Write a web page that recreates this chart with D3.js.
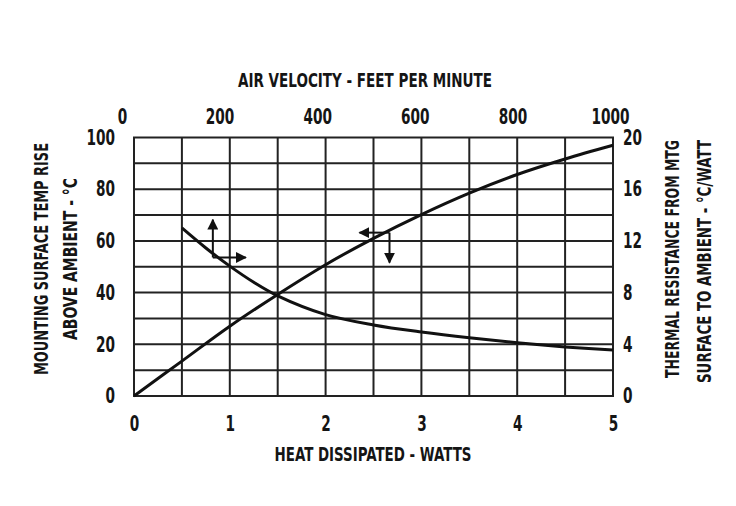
<!DOCTYPE html>
<html><head><meta charset="utf-8">
<script src="https://cdn.jsdelivr.net/npm/d3@7"></script>
<style>
body{margin:0;background:#fff}
svg{display:block}
text{font-family:"Liberation Sans Narrow","DejaVu Sans Condensed",sans-serif;font-weight:bold;fill:#151515}
</style></head><body><svg id="c" width="736" height="506"></svg>
<script>
// ---- data ----
const heatWatts      = [0, 0.5, 1, 1.5, 2, 2.5, 3, 3.5, 4, 4.5, 5];
const tempRiseC      = [0, 13.5, 27, 39.3, 50.8, 61, 70.2, 78.5, 85.7, 91.7, 97];
const airVelocityFpm = [100, 150, 200, 250, 300, 400, 500, 600, 700, 800, 900, 1000];
const thermalResCW   = [13, 11.45, 10.05, 8.8, 7.75, 6.3, 5.5, 4.95, 4.5, 4.12, 3.8, 3.55];
const heatTicks      = [0, 1, 2, 3, 4, 5];
const velocityTicks  = [0, 200, 400, 600, 800, 1000];
const tempTicks      = [0, 20, 40, 60, 80, 100];
const resTicks       = [0, 4, 8, 12, 16, 20];
const topTitle    = "AIR VELOCITY - FEET PER MINUTE";
const bottomTitle = "HEAT DISSIPATED - WATTS";
const leftTitle   = ["MOUNTING SURFACE TEMP RISE", "ABOVE AMBIENT - °C"];
const rightTitle  = ["THERMAL RESISTANCE FROM MTG", "SURFACE TO AMBIENT - °C/WATT"];
// arrow annotations (heat W, temp °C): stem start -> tip
const arrowStems = [
  {x0: 0.823, y0: 53.6, x1: 0.823, y1: 68.2},
  {x0: 0.823, y0: 53.6, x1: 1.167, y1: 53.6},
  {x0: 2.667, y0: 63.2, x1: 2.667, y1: 51.6},
  {x0: 2.667, y0: 63.2, x1: 2.354, y1: 63.2}
];

// ---- layout ----
const L = 134, R = 613, T = 137.5, B = 396;
const svg = d3.select("#c");
const x = d3.scaleLinear().domain([0, 5]).range([L, R]);
const xVel = d3.scaleLinear().domain([0, 1000]).range([L, R]);
const xVelLabel = d3.scaleLinear().domain([0, 1000]).range([122, 610]);
const y = d3.scaleLinear().domain([0, 100]).range([B, T]);
const yR = d3.scaleLinear().domain([0, 20]).range([B, T]);

svg.append("rect").attr("width", 736).attr("height", 506).attr("fill", "#fff");

// grid
const grid = svg.append("g").attr("stroke", "#222").attr("stroke-width", 2);
grid.selectAll("line.v").data(d3.range(0, 5.001, 0.5)).join("line")
  .attr("x1", d => x(d)).attr("x2", d => x(d)).attr("y1", T).attr("y2", B);
grid.selectAll("line.h").data(d3.range(0, 100.001, 10)).join("line")
  .attr("y1", d => y(d)).attr("y2", d => y(d)).attr("x1", L - 1).attr("x2", R + 1);

const fs = 19, tfs = 20.5;
function styleAxis(g) {
  g.select(".domain").remove();
  g.selectAll(".tick line").remove();
  g.selectAll("text").attr("font-size", tfs).attr("font-family", null).attr("fill", "#151515")
    .each(function () {
      const w = this.getComputedTextLength();
      d3.select(this).attr("textLength", w * 0.74).attr("lengthAdjust", "spacingAndGlyphs");
    });
}
// bottom axis
svg.append("g").attr("transform", `translate(0,${B})`)
  .call(d3.axisBottom(x).tickValues(heatTicks).tickFormat(d3.format("d")).tickSize(0))
  .call(styleAxis)
  .selectAll("text").attr("y", 34.5).attr("dy", null);
// top axis (air velocity)
svg.append("g").attr("transform", `translate(0,${T})`)
  .call(d3.axisTop(xVelLabel).tickValues(velocityTicks).tickFormat(d3.format("d")).tickSize(0))
  .call(styleAxis)
  .selectAll("text").attr("y", -14).attr("dy", null);
// left axis
svg.append("g").attr("transform", `translate(${L},0)`)
  .call(d3.axisLeft(y).tickValues(tempTicks).tickFormat(d3.format("d")).tickSize(0).tickPadding(19))
  .call(styleAxis)
  .selectAll("text").attr("dy", "0.33em");
// right axis
svg.append("g").attr("transform", `translate(${R},0)`)
  .call(d3.axisRight(yR).tickValues(resTicks).tickFormat(d3.format("d")).tickSize(0).tickPadding(10))
  .call(styleAxis)
  .selectAll("text").attr("dy", "0.33em");

// titles
function txt(t, px, py, len, rot) {
  const e = svg.append("text").text(t).attr("font-size", fs)
    .attr("text-anchor", "middle")
    .attr("textLength", len).attr("lengthAdjust", "spacingAndGlyphs");
  if (rot) e.attr("transform", `translate(${px},${py}) rotate(-90)`);
  else e.attr("x", px).attr("y", py);
}
txt(topTitle, 365, 87, 254, false);
txt(bottomTitle, 373, 461, 197, false);
txt(leftTitle[0], 47.5, 259, 232, true);
txt(leftTitle[1], 76.5, 259, 162, true);
txt(rightTitle[0], 679, 259, 238, true);
txt(rightTitle[1], 711, 261.5, 243, true);

// curves
const line1 = d3.line().x((d, i) => x(heatWatts[i])).y(d => y(d)).curve(d3.curveCatmullRom.alpha(0.5));
svg.append("path").attr("d", line1(tempRiseC)).attr("fill", "none")
  .attr("stroke", "#111").attr("stroke-width", 3);
const line2 = d3.line().x((d, i) => xVel(airVelocityFpm[i])).y(d => yR(d)).curve(d3.curveCatmullRom.alpha(0.5));
svg.append("path").attr("d", line2(thermalResCW)).attr("fill", "none")
  .attr("stroke", "#111").attr("stroke-width", 3);

// arrows
svg.append("defs").append("marker").attr("id", "ah")
  .attr("viewBox", "0 0 10 10").attr("refX", 9).attr("refY", 5)
  .attr("markerUnits", "userSpaceOnUse").attr("markerWidth", 11).attr("markerHeight", 11)
  .attr("orient", "auto")
  .append("path").attr("d", "M0,0L10,5L0,10Z").attr("fill", "#111");
svg.append("g").selectAll("line").data(arrowStems).join("line")
  .attr("x1", d => x(d.x0)).attr("y1", d => y(d.y0))
  .attr("x2", d => x(d.x1)).attr("y2", d => y(d.y1))
  .attr("stroke", "#111").attr("stroke-width", 2).attr("marker-end", "url(#ah)");
</script></body></html>
